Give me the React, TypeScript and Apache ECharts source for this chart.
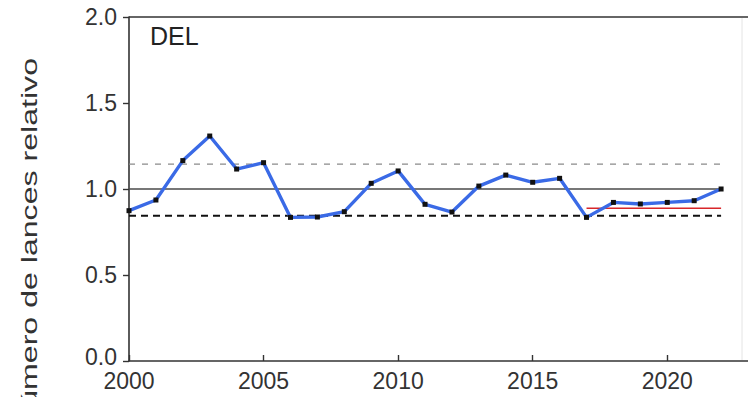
import React, { useEffect, useRef } from "react";
import * as echarts from "echarts";

// Annual relative number of hauls, 2000–2022
const years = [2000, 2001, 2002, 2003, 2004, 2005, 2006, 2007, 2008, 2009, 2010, 2011, 2012, 2013, 2014, 2015, 2016, 2017, 2018, 2019, 2020, 2021, 2022];
const relativeHauls = [0.874, 0.936, 1.165, 1.308, 1.116, 1.153, 0.835, 0.837, 0.868, 1.033, 1.105, 0.911, 0.866, 1.017, 1.081, 1.039, 1.062, 0.835, 0.922, 0.913, 0.922, 0.932, 1.0];

// Reference levels
const meanLevel = 1.0;
const upperLevel = 1.145;
const lowerLevel = 0.845;
const recentLevel = 0.888;
const recentStart = 2017;

const yTicks = [0, 0.5, 1.0, 1.5, 2.0];
const panelLabel = "DEL";
const yAxisTitle = "Número de lances relativo";

const FONT = "'Liberation Sans', Arial, sans-serif";

export default function App() {
  const ref = useRef<HTMLDivElement>(null);

  useEffect(() => {
    if (!ref.current) return;
    const chart = echarts.init(ref.current, undefined, { renderer: "svg" });
    const first = years[0];
    const last = years[years.length - 1];

    const hLine = (name: string, x0: number, x1: number, y: number, color: string, width: number, type: any) => ({
      name,
      type: "line",
      data: [[x0, y], [x1, y]],
      symbol: "none",
      silent: true,
      lineStyle: { color, width, type },
      z: 2,
    });

    const tickText = { fontSize: 23, fontFamily: FONT, color: "#333" };

    chart.setOption({
      animation: false,
      backgroundColor: "#ffffff",
      grid: { left: 129, top: 17, width: 620, height: 344, containLabel: false },
      xAxis: {
        type: "value",
        min: 2000,
        max: 2023,
        interval: 5,
        axisLine: { show: true, lineStyle: { color: "#333", width: 1.6 } },
        axisTick: { show: true, inside: true, length: 6, lineStyle: { color: "#333", width: 1.4 } },
        axisLabel: {
          show: true,
          margin: 8,
          ...tickText,
          showMaxLabel: false,
          formatter: (v: number) => String(v),
        },
        splitLine: { show: false },
      },
      yAxis: {
        type: "value",
        min: yTicks[0],
        max: yTicks[yTicks.length - 1],
        interval: 0.5,
        axisLine: { show: true, lineStyle: { color: "#333", width: 1.6 } },
        axisTick: { show: true, inside: false, length: 6, lineStyle: { color: "#333", width: 1.4 } },
        axisLabel: {
          margin: 12,
          ...tickText,
          // the zero label sits a little above its tick, clear of the year labels
          formatter: (v: number) => (v === 0 ? "{z|" + v.toFixed(1) + "}" : v.toFixed(1)),
          rich: { z: { ...tickText, padding: [0, 0, 9, 0] } },
        },
        splitLine: { show: false },
      },
      series: [
        hLine("upper", first, last, upperLevel, "#8a8a8a", 1.3, [6, 7]),
        hLine("mean", first, last, meanLevel, "#4a4a4a", 1.5, "solid"),
        hLine("lower", first, last, lowerLevel, "#111", 2, [7, 5]),
        hLine("recent", recentStart, last, recentLevel, "#d8262a", 1.3, "solid"),
        {
          name: "relative",
          type: "line",
          data: years.map((y, i) => [y, relativeHauls[i]]),
          symbol: "rect",
          symbolSize: 5,
          lineStyle: { color: "#3a6ae6", width: 3.4 },
          itemStyle: { color: "#111" },
          z: 5,
        },
      ],
      graphic: [
        {
          type: "line",
          shape: { x1: 129, y1: 17, x2: 748, y2: 17 },
          style: { stroke: "#333", lineWidth: 1.6 },
          silent: true,
        },
        {
          type: "line",
          shape: { x1: 742, y1: 18, x2: 742, y2: 360 },
          style: { stroke: "#e4e4e4", lineWidth: 1 },
          silent: true,
        },
        {
          type: "text",
          x: 150,
          y: 23,
          style: { text: panelLabel, fontSize: 25, fontFamily: FONT, fill: "#222" },
        },
        {
          type: "text",
          x: 29,
          y: 58,
          rotation: Math.PI / 2,
          scaleX: 1.46,
          style: {
            text: yAxisTitle,
            fontSize: 22,
            fontFamily: FONT,
            fill: "#333",
            align: "right",
            verticalAlign: "middle",
          },
        },
      ],
    });

    return () => chart.dispose();
  }, []);

  return (
    <div
      ref={ref}
      style={{ position: "fixed", left: 0, top: 0, width: 748, height: 397, background: "#fff" }}
    />
  );
}
